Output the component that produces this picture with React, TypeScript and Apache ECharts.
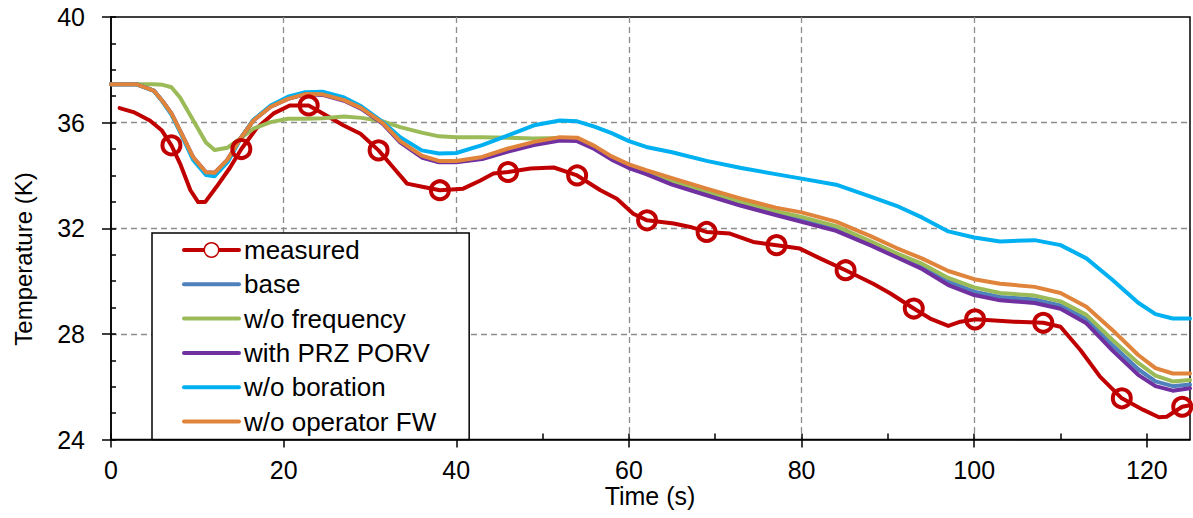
import React, { useEffect, useRef } from "react";
import * as echarts from "echarts";

const xTicks = [0, 20, 40, 60, 80, 100, 120];
const xMinorTicks = [0, 10, 20, 30, 40, 50, 60, 70, 80, 90, 100, 110, 120];
const yMinorTicks = [24, 25, 26, 27, 28, 29, 30, 31, 32, 33, 34, 35, 36, 37, 38, 39, 40];

const measuredTime = [1, 2.6, 4.5, 5.9, 7, 8, 9.2, 10.1, 10.9, 12.2, 13.8, 15.1, 16.9, 18.8, 20.7, 22.9, 24.6, 26.9, 28.9, 31, 32.7, 34.3, 36.2, 38.1, 40.8, 42.8, 44.3, 46, 48.6, 51.3, 54, 56.7, 58.6, 60.5, 62.1, 65.2, 67.1, 69, 71.7, 74.4, 77.1, 79.8, 82.2, 85.1, 88.3, 90.3, 93, 94.9, 97, 98.4, 100.1, 104.6, 108, 110, 112.3, 114.6, 117.1, 119.6, 121.4, 122.3, 124.1, 125];
const measuredTemp = [36.55, 36.4, 36.08, 35.7, 35.14, 34.45, 33.44, 32.99, 32.99, 33.56, 34.3, 35.0, 35.8, 36.34, 36.65, 36.65, 36.34, 35.9, 35.58, 34.95, 34.3, 33.69, 33.56, 33.44, 33.5, 33.81, 34.07, 34.13, 34.26, 34.3, 34.0, 33.44, 33.12, 32.55, 32.3, 32.18, 32.05, 31.86, 31.8, 31.48, 31.36, 31.23, 30.85, 30.41, 29.9, 29.53, 28.96, 28.58, 28.3, 28.46, 28.55, 28.46, 28.42, 28.27, 27.39, 26.37, 25.56, 25.12, 24.84, 24.86, 25.24, 25.3];
const measuredMarkerTimes = [7, 15.1, 22.9, 31, 38.1, 46, 54, 62.1, 69, 77.1, 85.1, 93, 100.1, 108, 117.1, 124.1];

const simTime = [0, 3, 5, 6, 7, 8, 9.5, 11, 12, 13.5, 15, 16.5, 18.5, 20.5, 22.5, 24.5, 27, 29, 31.5, 33.5, 36, 38, 40, 43, 46, 49, 52, 54, 56, 58, 60, 62, 65, 69, 73, 77, 80, 84, 88, 91, 94, 97, 100, 103, 107, 110, 113, 116, 119, 121, 123, 125];
const baseTemp = [37.45, 37.45, 37.2, 36.8, 36.33, 35.68, 34.65, 34.06, 34.02, 34.55, 35.4, 36.1, 36.63, 36.95, 37.12, 37.12, 36.9, 36.58, 35.96, 35.27, 34.7, 34.52, 34.52, 34.65, 34.95, 35.2, 35.38, 35.35, 35.03, 34.62, 34.3, 34.08, 33.72, 33.32, 32.92, 32.58, 32.33, 31.98, 31.42, 30.98, 30.55, 29.98, 29.6, 29.4, 29.3, 29.08, 28.55, 27.58, 26.66, 26.2, 26.02, 26.08];
const noFrequencyTemp = [37.45, 37.45, 37.45, 37.43, 37.34, 36.95, 36.1, 35.25, 34.96, 35.05, 35.4, 35.77, 36.02, 36.15, 36.15, 36.17, 36.23, 36.18, 36.05, 35.83, 35.62, 35.48, 35.45, 35.45, 35.43, 35.4, 35.42, 35.38, 35.05, 34.63, 34.33, 34.1, 33.8, 33.4, 33.0, 32.65, 32.43, 32.08, 31.5, 31.05, 30.65, 30.12, 29.76, 29.55, 29.45, 29.23, 28.72, 27.78, 26.9, 26.42, 26.2, 26.25];
const przPorvTemp = [37.45, 37.45, 37.2, 36.8, 36.35, 35.7, 34.7, 34.12, 34.1, 34.6, 35.4, 36.08, 36.6, 36.9, 37.07, 37.05, 36.83, 36.52, 35.95, 35.25, 34.68, 34.5, 34.5, 34.62, 34.9, 35.15, 35.32, 35.3, 35.0, 34.6, 34.28, 34.05, 33.65, 33.25, 32.85, 32.5, 32.24, 31.9, 31.35, 30.9, 30.45, 29.85, 29.47, 29.27, 29.17, 28.95, 28.4, 27.38, 26.45, 26.02, 25.85, 25.94];
const noBorationTemp = [37.45, 37.45, 37.2, 36.78, 36.3, 35.65, 34.6, 34.02, 33.97, 34.5, 35.38, 36.1, 36.65, 36.98, 37.15, 37.17, 36.95, 36.62, 36.02, 35.45, 34.95, 34.83, 34.85, 35.15, 35.52, 35.9, 36.08, 36.05, 35.85, 35.6, 35.3, 35.08, 34.88, 34.55, 34.28, 34.05, 33.88, 33.65, 33.2, 32.85, 32.4, 31.88, 31.65, 31.5, 31.55, 31.36, 30.86, 30.05, 29.18, 28.75, 28.58, 28.58];
const noOperatorFwTemp = [37.45, 37.45, 37.2, 36.8, 36.35, 35.7, 34.7, 34.12, 34.1, 34.6, 35.4, 36.08, 36.6, 36.9, 37.08, 37.07, 36.85, 36.55, 35.98, 35.3, 34.75, 34.55, 34.55, 34.7, 35.02, 35.27, 35.45, 35.43, 35.12, 34.72, 34.42, 34.2, 33.9, 33.5, 33.12, 32.78, 32.6, 32.25, 31.7, 31.25, 30.85, 30.38, 30.07, 29.9, 29.78, 29.55, 29.03, 28.15, 27.2, 26.7, 26.5, 26.5];

const FONT = "'Liberation Sans', Arial, sans-serif";
const RED = "#C00000";
const BASE_C = "#4F81BD";
const FREQ_C = "#9BBB59";
const PRZ_C = "#7030A0";
const BOR_C = "#00B0F0";
const FW_C = "#E0843C";

function simSeries(name: string, values: number[], color: string) {
  return {
    name,
    type: "line",
    data: simTime.map((t, i) => [t, values[i]]),
    symbol: "none",
    showSymbol: false,
    xAxisIndex: 0,
    yAxisIndex: 0,
    lineStyle: { color, width: 4, cap: "round", join: "round" },
    itemStyle: { color },
  };
}

function legendLineOnly(name: string, color: string) {
  return {
    name,
    itemStyle: { color: "rgba(0,0,0,0)", borderColor: "rgba(0,0,0,0)", borderWidth: 0, opacity: 0 },
    lineStyle: { color, width: 4, opacity: 1 },
  };
}

export default function App() {
  const ref = useRef<HTMLDivElement>(null);
  useEffect(() => {
    const chart = echarts.init(ref.current!, null, { renderer: "svg" });
    const tickLine = { color: "#000", width: 1.5 };
    const option: any = {
      animation: false,
      backgroundColor: "#fff",
      grid: {
        left: 111,
        right: 3,
        top: 17,
        bottom: 78.5,
        containLabel: false,
        outerBoundsMode: "none",
        show: true,
        borderColor: "#000",
        borderWidth: 1.5,
        backgroundColor: "transparent",
      },
      xAxis: [
        {
          type: "value",
          min: 0,
          max: 125,
          interval: 20,
          position: "bottom",
          axisLine: { show: true, onZero: false, lineStyle: { color: "#000", width: 1.5 } },
          axisTick: { show: true, length: 8, customValues: xTicks, lineStyle: tickLine },
          axisLabel: { customValues: xTicks, fontSize: 25, color: "#000", margin: 18, fontFamily: FONT },
          splitLine: { show: true, showMinLine: false, showMaxLine: false, lineStyle: { color: "#8c8c8c", type: [6, 4], width: 1.3 } },
        },
        {
          type: "value",
          min: 0,
          max: 125,
          position: "bottom",
          axisLine: { show: false },
          axisTick: { show: true, inside: true, length: 6, customValues: xMinorTicks, lineStyle: tickLine },
          axisLabel: { show: false },
          splitLine: { show: false },
        },
      ],
      yAxis: [
        {
          type: "value",
          min: 24,
          max: 40,
          interval: 4,
          position: "left",
          axisLine: { show: true, onZero: false, lineStyle: { color: "#000", width: 1.5 } },
          axisTick: { show: true, length: 9, lineStyle: tickLine },
          axisLabel: { fontSize: 25, color: "#000", margin: 26, fontFamily: FONT },
          splitLine: { show: true, showMinLine: false, showMaxLine: false, lineStyle: { color: "#8c8c8c", type: [6, 4], width: 1.3 } },
        },
        {
          type: "value",
          min: 24,
          max: 40,
          position: "left",
          axisLine: { show: false },
          axisTick: { show: true, inside: true, length: 5, customValues: yMinorTicks, lineStyle: tickLine },
          axisLabel: { show: false },
          splitLine: { show: false },
        },
      ],
      legend: {
        orient: "vertical",
        left: 152,
        top: 233,
        itemWidth: 55,
        itemHeight: 18,
        itemGap: 8.3,
        padding: [4, 33, 5, 30],
        borderColor: "#000",
        borderWidth: 1.5,
        backgroundColor: "#fff",
        selectedMode: false,
        textStyle: { fontSize: 26, lineHeight: 26, color: "#000", fontFamily: FONT },
        data: [
          { name: "measured", itemStyle: { color: "#fff", borderColor: RED, borderWidth: 1.5 }, lineStyle: { color: RED, width: 4 } },
          legendLineOnly("base", BASE_C),
          legendLineOnly("w/o frequency", FREQ_C),
          legendLineOnly("with PRZ PORV", PRZ_C),
          legendLineOnly("w/o boration", BOR_C),
          legendLineOnly("w/o operator FW", FW_C),
        ],
      },
      graphic: [
        {
          type: "text",
          x: 650,
          y: 496,
          style: { text: "Time (s)", fontSize: 25, fontFamily: FONT, fill: "#000", align: "center", verticalAlign: "middle", textAlign: "center", textVerticalAlign: "middle" },
        },
        {
          type: "text",
          x: 23,
          y: 259,
          rotation: Math.PI / 2,
          style: { text: "Temperature (K)", fontSize: 24, fontFamily: FONT, fill: "#000", align: "center", verticalAlign: "middle", textAlign: "center", textVerticalAlign: "middle" },
        },
      ],
      series: [
        {
          name: "measured",
          type: "line",
          xAxisIndex: 0,
          yAxisIndex: 0,
          data: measuredTime.map((t, i) => ({
            value: [t, measuredTemp[i]],
            symbol: measuredMarkerTimes.includes(t) ? "circle" : "none",
          })),
          symbol: "circle",
          symbolSize: 18,
          showSymbol: true,
          showAllSymbol: true,
          lineStyle: { color: RED, width: 4, cap: "round", join: "round" },
          itemStyle: { color: "rgba(0,0,0,0)", borderColor: RED, borderWidth: 4 },
        },
        simSeries("base", baseTemp, BASE_C),
        simSeries("w/o frequency", noFrequencyTemp, FREQ_C),
        simSeries("with PRZ PORV", przPorvTemp, PRZ_C),
        simSeries("w/o boration", noBorationTemp, BOR_C),
        simSeries("w/o operator FW", noOperatorFwTemp, FW_C),
      ],
    };
    chart.setOption(option);
    return () => chart.dispose();
  }, []);
  return (
    <div
      ref={ref}
      style={{ position: "fixed", left: 0, top: 0, width: 1193, height: 518, background: "#fff" }}
    />
  );
}
